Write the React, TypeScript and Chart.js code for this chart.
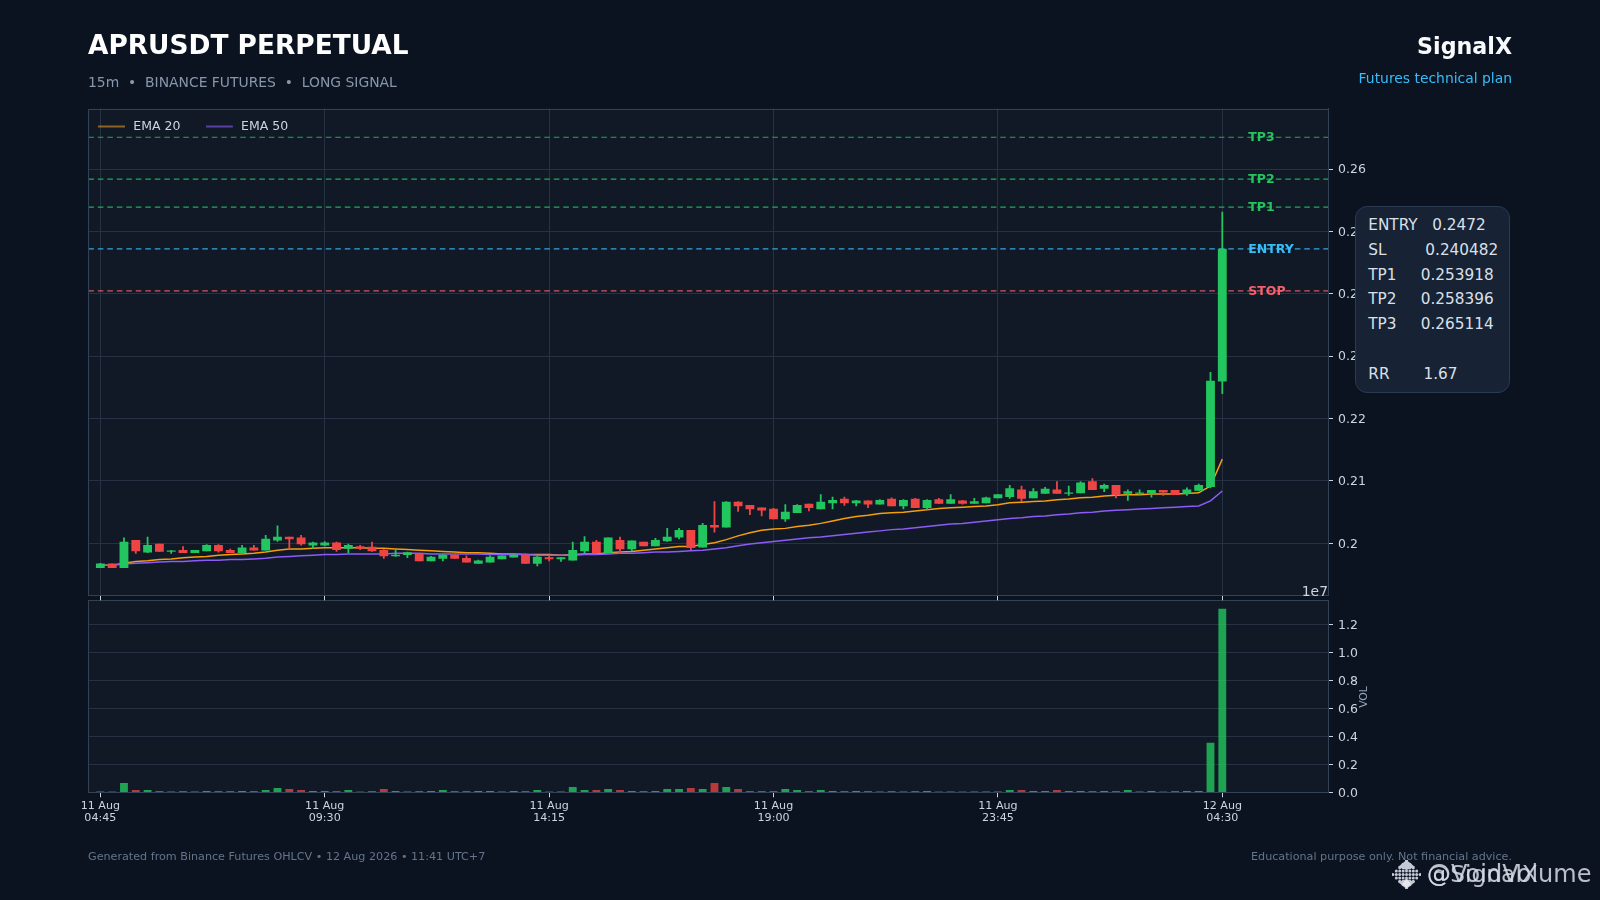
import React, { useEffect, useRef } from "react";
import { Chart, registerables } from "chart.js";

Chart.register(...registerables);

const tickIndexes = [0, 19, 38, 57, 76, 95];
const tickDates = ["11 Aug", "11 Aug", "11 Aug", "11 Aug", "11 Aug", "12 Aug"];
const tickTimes = ["04:45", "09:30", "14:15", "19:00", "23:45", "04:30"];
const priceTicks = [0.2, 0.21, 0.22, 0.23, 0.24, 0.25, 0.26];
const volumeTicks = [0, 0.2, 0.4, 0.6, 0.8, 1.0, 1.2];

const opens = [
  0.1961, 0.1967, 0.1961, 0.2005, 0.1986, 0.1999, 0.1987, 0.1989, 0.1985, 0.1988, 0.1997, 0.1989,
  0.1985, 0.1993, 0.1989, 0.2005, 0.201, 0.2009, 0.1997, 0.1997, 0.2001, 0.1992, 0.1995, 0.1994,
  0.1989, 0.198, 0.1982, 0.1983, 0.1972, 0.1976, 0.1981, 0.1976, 0.1968, 0.197, 0.1975, 0.1978,
  0.1981, 0.1968, 0.1977, 0.1975, 0.1973, 0.1988, 0.2002, 0.1985, 0.2005, 0.1991, 0.2002, 0.1996,
  0.2004, 0.201, 0.2021, 0.1994, 0.2029, 0.2026, 0.2066, 0.2061, 0.2057, 0.2055, 0.2039, 0.2049,
  0.2063, 0.2055, 0.2065, 0.2071, 0.2065, 0.2068, 0.2063, 0.2071, 0.206, 0.2071, 0.2057, 0.207,
  0.2064, 0.2068, 0.2064, 0.2065, 0.2073, 0.2075, 0.2086, 0.2073, 0.208, 0.2086, 0.208, 0.2081,
  0.2099, 0.2088, 0.2093, 0.208, 0.208, 0.2081, 0.2085, 0.2085, 0.208, 0.2085, 0.2091, 0.226,
];
const highs = [
  0.1968, 0.1967, 0.2009, 0.2005, 0.201, 0.1999, 0.1989, 0.1995, 0.1989, 0.1998, 0.1998, 0.1991,
  0.1997, 0.1997, 0.2013, 0.2028, 0.201, 0.2013, 0.2002, 0.2003, 0.2002, 0.1999, 0.1997, 0.2002,
  0.199, 0.1989, 0.1986, 0.1983, 0.1979, 0.1982, 0.1982, 0.198, 0.1973, 0.198, 0.198, 0.1982,
  0.1983, 0.1979, 0.198, 0.1977, 0.2002, 0.2011, 0.2005, 0.2009, 0.201, 0.2004, 0.2002, 0.2008,
  0.2024, 0.2024, 0.2021, 0.2032, 0.2067, 0.2067, 0.2067, 0.2061, 0.2057, 0.2056, 0.2062, 0.2062,
  0.2063, 0.2078, 0.2074, 0.2074, 0.2069, 0.2068, 0.207, 0.2073, 0.207, 0.2072, 0.207, 0.2072,
  0.2078, 0.2069, 0.2072, 0.2074, 0.2078, 0.2093, 0.2092, 0.2088, 0.209, 0.2099, 0.2092, 0.2099,
  0.2104, 0.2095, 0.2093, 0.2086, 0.2086, 0.2085, 0.2085, 0.2085, 0.2089, 0.2095, 0.2274, 0.2531,
];
const lows = [
  0.1961, 0.1961, 0.1961, 0.1984, 0.1985, 0.1987, 0.1984, 0.1985, 0.1985, 0.1988, 0.1986, 0.1985,
  0.1985, 0.1989, 0.1989, 0.2003, 0.1992, 0.1997, 0.1992, 0.1996, 0.1987, 0.1985, 0.199, 0.1987,
  0.1976, 0.1979, 0.1977, 0.1972, 0.1972, 0.1972, 0.1976, 0.197, 0.1968, 0.197, 0.1975, 0.1978,
  0.1968, 0.1964, 0.1972, 0.1971, 0.1973, 0.1984, 0.1985, 0.1985, 0.1984, 0.1988, 0.1996, 0.1996,
  0.2003, 0.2007, 0.199, 0.1994, 0.2018, 0.2026, 0.2051, 0.2046, 0.2044, 0.2039, 0.2035, 0.2049,
  0.2052, 0.2055, 0.2055, 0.2061, 0.206, 0.2057, 0.2063, 0.206, 0.2055, 0.2057, 0.2054, 0.2064,
  0.2064, 0.2063, 0.2064, 0.2065, 0.2073, 0.2072, 0.2067, 0.2073, 0.208, 0.208, 0.2077, 0.2081,
  0.2086, 0.2083, 0.2073, 0.2069, 0.2078, 0.2074, 0.2077, 0.2078, 0.2077, 0.2084, 0.2089, 0.224,
];
const closes = [
  0.1967, 0.1961, 0.2002, 0.1988, 0.1997, 0.1987, 0.1988, 0.1985, 0.1989, 0.1997, 0.1988, 0.1985,
  0.1993, 0.1989, 0.2007, 0.201, 0.2007, 0.1999, 0.2001, 0.2001, 0.199, 0.1997, 0.1992, 0.1988,
  0.198, 0.1981, 0.1985, 0.1972, 0.1978, 0.1981, 0.1976, 0.197, 0.1972, 0.1978, 0.198, 0.1981,
  0.1968, 0.1978, 0.1975, 0.1977, 0.1989, 0.2002, 0.1985, 0.2009, 0.1991, 0.2004, 0.1996, 0.2005,
  0.201, 0.2021, 0.1993, 0.2029, 0.2026, 0.2066, 0.206, 0.2055, 0.2053, 0.2039, 0.205, 0.2061,
  0.2057, 0.2066, 0.2069, 0.2065, 0.2068, 0.2063, 0.2069, 0.206, 0.2069, 0.2057, 0.2069, 0.2064,
  0.207, 0.2064, 0.2067, 0.2073, 0.2078, 0.2088, 0.2072, 0.2083, 0.2087, 0.208, 0.2081, 0.2097,
  0.2086, 0.2093, 0.2078, 0.2083, 0.2081, 0.2085, 0.2082, 0.2078, 0.2086, 0.2093, 0.226, 0.2472,
];
const ema20 = [
  0.1965, 0.1965, 0.1968, 0.1971, 0.1972, 0.1974, 0.1975, 0.1977, 0.1978, 0.1979, 0.1981, 0.1982,
  0.1983, 0.1984, 0.1986, 0.1989, 0.1991, 0.1991, 0.1992, 0.1993, 0.1993, 0.1993, 0.1993, 0.1992,
  0.1992, 0.1991, 0.199, 0.1989, 0.1988, 0.1987, 0.1986, 0.1985, 0.1985, 0.1984, 0.1983, 0.1983,
  0.1982, 0.1982, 0.1982, 0.1981, 0.1982, 0.1983, 0.1983, 0.1985, 0.1986, 0.1987, 0.1989, 0.1991,
  0.1993, 0.1995, 0.1995, 0.1998, 0.2001, 0.2006, 0.2012, 0.2017, 0.2021, 0.2023, 0.2024, 0.2027,
  0.2029, 0.2032, 0.2036, 0.204, 0.2043, 0.2045, 0.2048, 0.2049, 0.205, 0.2052, 0.2054, 0.2056,
  0.2057, 0.2058, 0.2059, 0.206, 0.2062, 0.2065, 0.2066, 0.2067, 0.2068, 0.207, 0.2071, 0.2073,
  0.2074, 0.2076, 0.2077, 0.2078, 0.2078, 0.2079, 0.2079, 0.2079, 0.208, 0.2081, 0.2092, 0.2135,
];
const ema50 = [
  0.1965, 0.1965, 0.1967, 0.1968, 0.1969, 0.197, 0.1971, 0.1971, 0.1972, 0.1973, 0.1973, 0.1974,
  0.1974, 0.1975, 0.1976, 0.1978, 0.1979, 0.198, 0.1981, 0.1982, 0.1982, 0.1983, 0.1983, 0.1983,
  0.1983, 0.1984, 0.1984, 0.1984, 0.1983, 0.1983, 0.1983, 0.1983, 0.1983, 0.1982, 0.1982, 0.1982,
  0.1982, 0.1981, 0.1981, 0.1981, 0.1981, 0.1982, 0.1982, 0.1983, 0.1984, 0.1984, 0.1985, 0.1986,
  0.1986, 0.1987, 0.1988, 0.1989, 0.1991, 0.1993, 0.1996, 0.1999, 0.2001, 0.2003, 0.2005, 0.2007,
  0.2009, 0.201, 0.2012, 0.2014, 0.2016, 0.2018, 0.202, 0.2022, 0.2023, 0.2025, 0.2027, 0.2029,
  0.2031, 0.2032, 0.2034, 0.2036, 0.2038, 0.204, 0.2041, 0.2043, 0.2044, 0.2046, 0.2047, 0.2049,
  0.205, 0.2052, 0.2053, 0.2054, 0.2055, 0.2056, 0.2057, 0.2058, 0.2059, 0.206, 0.2068, 0.2084,
];
// volume, in units of 1e7
const volumes = [
  0.001, 0.001, 0.064, 0.014, 0.014, 0.007, 0.002, 0.007, 0.002, 0.007, 0.007, 0.007,
  0.007, 0.007, 0.014, 0.029, 0.021, 0.014, 0.007, 0.007, 0.007, 0.014, 0.002, 0.007,
  0.021, 0.007, 0.002, 0.007, 0.007, 0.014, 0.007, 0.007, 0.007, 0.007, 0.002, 0.007,
  0.007, 0.014, 0.002, 0.002, 0.036, 0.014, 0.014, 0.021, 0.014, 0.007, 0.007, 0.007,
  0.021, 0.021, 0.029, 0.021, 0.064, 0.036, 0.021, 0.007, 0.007, 0.007, 0.021, 0.014,
  0.007, 0.014, 0.007, 0.007, 0.007, 0.007, 0.002, 0.007, 0.002, 0.007, 0.007, 0.002,
  0.002, 0.002, 0.002, 0.002, 0.002, 0.014, 0.014, 0.007, 0.007, 0.014, 0.007, 0.007,
  0.007, 0.007, 0.007, 0.014, 0.002, 0.007, 0.002, 0.007, 0.007, 0.007, 0.352, 1.309,
];
const levelNames = ["TP3", "TP2", "TP1", "ENTRY", "STOP"];
const levelValues = [0.265114, 0.258396, 0.253918, 0.2472, 0.240482];
const infoLines = [
  "ENTRY   0.2472",
  "SL        0.240482",
  "TP1     0.253918",
  "TP2     0.258396",
  "TP3     0.265114",
  " ",
  "RR       1.67",
];

const FONT = "'DejaVu Sans', sans-serif";
const BG = "#0b1320";
const PANEL = "#111927";
const GRID = "#263243";
const FRAME = "#334155";
const TICK = "#cbd5e1";
const UP = "#22c55e";
const DOWN = "#ef4444";
const UP_VOL = "rgba(34,197,94,0.8)";
const DOWN_VOL = "rgba(239,68,68,0.75)";
const LEVEL_COLORS = ["#22c55e", "#22c55e", "#22c55e", "#38bdf8", "#f4606c"];
const ORANGE = "#f59e0b";
const PURPLE = "#8b5cf6";
const X_MIN = -1.02;
const X_MAX = 103.95;
const LEFT = 88.3;
const RIGHT = 1328;
const MAIN_TOP = 108;
const MAIN_BOTTOM = 595.3;
const VOL_TOP = 600.3;
const VOL_BOTTOM = 792.3;

function panelPlugin() {
  return {
    id: "panel",
    beforeDraw(chart: any) {
      const { ctx, chartArea: a } = chart;
      ctx.save();
      ctx.fillStyle = PANEL;
      ctx.fillRect(a.left, a.top, a.right - a.left, a.bottom - a.top);
      ctx.restore();
    },
    afterDatasetsDraw(chart: any) {
      const { ctx, chartArea: a } = chart;
      ctx.save();
      ctx.strokeStyle = FRAME;
      ctx.lineWidth = 1;
      const l = Math.round(a.left) + 0.5;
      const t = Math.round(a.top) + 0.5;
      const r = Math.round(a.right) + 0.5;
      const b = Math.round(a.bottom) + 0.5;
      ctx.strokeRect(l, t, r - l, b - t);
      ctx.restore();
    },
  };
}

const levelLabelPlugin = {
  id: "levelLabels",
  afterDatasetsDraw(chart: any) {
    const { ctx, scales } = chart;
    ctx.save();
    ctx.font = `bold 12.5px ${FONT}`;
    ctx.textBaseline = "middle";
    ctx.textAlign = "left";
    levelNames.forEach((name, i) => {
      ctx.fillStyle = LEVEL_COLORS[i];
      ctx.fillText(name, scales.x.getPixelForValue(97.2), scales.y.getPixelForValue(levelValues[i]) + 0.5);
    });
    ctx.restore();
  },
};

// Chart.js has no inside-the-plot legend position for a row, so the row is moved after layout.
const legendPlacePlugin = {
  id: "legendPlace",
  afterLayout(chart: any) {
    const lg = chart.legend;
    lg.left = 72.5;
    lg.right = 1000;
    lg.top = 94.75;
    lg.bottom = 160;
  },
};

function swatch(color: string) {
  const c = document.createElement("canvas");
  c.width = 29;
  c.height = 4;
  const g = c.getContext("2d")!;
  g.strokeStyle = color;
  g.lineWidth = 1.4;
  g.beginPath();
  g.moveTo(0, 2);
  g.lineTo(27, 2);
  g.stroke();
  return c;
}

function Txt(props: { x: number; base: number; size: number; color: string; bold?: boolean; right?: boolean; children: string; opacity?: number }) {
  const { x, base, size, color, bold, right, children, opacity } = props;
  const style: React.CSSProperties = {
    position: "absolute",
    top: base - 0.846 * size,
    fontFamily: FONT,
    fontSize: size,
    lineHeight: 1,
    color,
    fontWeight: bold ? 700 : 400,
    whiteSpace: "pre",
    opacity: opacity ?? 1,
  };
  if (right) style.right = 1600 - x;
  else style.left = x;
  return <div style={style}>{children}</div>;
}

function Logo() {
  const dots: React.ReactElement[] = [];
  for (let i = -4; i <= 4; i++) {
    for (let j = -4; j <= 4; j++) {
      if (Math.abs(i) + Math.abs(j) <= 4) {
        dots.push(<circle key={`${i}_${j}`} cx={14.5 + i * 3.4} cy={14.5 + j * 3.4} r={1.5} fill="#d8dee8" />);
      }
    }
  }
  return (
    <svg width={29} height={29} style={{ position: "absolute", left: 1392, top: 860, opacity: 0.9 }}>
      {dots}
      <polygon points="14.5,0 23,7 14.5,10 6,7" fill="#d8dee8" />
      <polygon points="14.5,29 23,22 14.5,19 6,22" fill="#d8dee8" />
      <polygon points="14.5,19 19,24 14.5,28 10,24" fill="#ffffff" />
    </svg>
  );
}

export default function App() {
  const mainRef = useRef<HTMLCanvasElement>(null);
  const volRef = useRef<HTMLCanvasElement>(null);

  useEffect(() => {
    document.body.style.margin = "0";
    document.body.style.background = BG;
    const isUp = closes.map((c, i) => c >= opens[i]);
    const candleColors = isUp.map((u) => (u ? UP : DOWN));
    const xTickConfig = (labels: boolean) => ({
      type: "linear" as const,
      min: X_MIN,
      max: X_MAX,
      offset: false,
      afterBuildTicks: (s: any) => {
        s.ticks = tickIndexes.map((value) => ({ value }));
      },
      ticks: {
        display: labels,
        autoSkip: false,
        maxRotation: 0,
        color: TICK,
        padding: 3.5,
        font: { family: FONT, size: 11.1, lineHeight: 1.03 },
        callback: (v: any) => {
          const k = tickIndexes.indexOf(Number(v));
          return k < 0 ? "" : [tickDates[k], tickTimes[k]];
        },
      },
    });
    const yAxisConfig = (min: number, max: number, values: number[], fmt: (v: number) => string) => ({
      type: "linear" as const,
      position: "right" as const,
      min,
      max,
      beginAtZero: false,
      afterBuildTicks: (s: any) => {
        s.ticks = values.map((value) => ({ value }));
      },
      afterFit: (s: any) => {
        s.width = 1600 - RIGHT;
      },
      grid: { color: GRID, lineWidth: 1, tickColor: TICK, tickLength: 5, tickWidth: 1 },
      border: { color: FRAME },
      ticks: {
        color: TICK,
        padding: 5,
        labelOffset: 1,
        font: { family: FONT, size: 12.5 },
        callback: (v: any) => fmt(Number(v)),
      },
    });

    const main = new Chart(mainRef.current!, {
      type: "bar",
      plugins: [panelPlugin(), levelLabelPlugin, legendPlacePlugin],
      data: {
        datasets: [
          ...levelNames.map((name, i) => ({
            type: "line" as const,
            label: name,
            data: [
              { x: X_MIN, y: levelValues[i] },
              { x: X_MAX, y: levelValues[i] },
            ],
            borderColor: LEVEL_COLORS[i] + "d9",
            borderWidth: 1.2,
            borderDash: [5.6, 3.9],
            pointRadius: 0,
            order: 5,
          })),
          {
            type: "line" as const,
            label: "EMA 20",
            data: ema20.map((y, x) => ({ x, y })),
            borderColor: ORANGE,
            borderWidth: 1.5,
            pointRadius: 0,
            tension: 0,
            order: 4,
          },
          {
            type: "line" as const,
            label: "EMA 50",
            data: ema50.map((y, x) => ({ x, y })),
            borderColor: PURPLE,
            borderWidth: 1.5,
            pointRadius: 0,
            tension: 0,
            order: 3,
          },
          {
            label: "wick",
            data: highs.map((h, x) => ({ x, y: [lows[x], h] })),
            backgroundColor: candleColors,
            barThickness: 1.15,
            grouped: false,
            order: 2,
          },
          {
            label: "body",
            data: opens.map((o, x) => ({ x, y: [o, closes[x]] })),
            backgroundColor: candleColors,
            barThickness: 8.2,
            grouped: false,
            order: 1,
          },
        ] as any,
      },
      options: {
        responsive: false,
        animation: false,
        events: [],
        layout: { padding: { left: LEFT, top: MAIN_TOP - 47.5, right: 0, bottom: 0 } },
        plugins: {
          tooltip: { enabled: false },
          legend: {
            position: "top",
            align: "start",
            labels: {
              usePointStyle: true,
              pointStyleWidth: 29,
              padding: 25.5,
              color: TICK,
              font: { family: FONT, size: 12.5 },
              generateLabels: (c: any) =>
                c.data.datasets
                  .map((d: any, i: number) => ({ d, i }))
                  .filter(({ d }: any) => d.label.startsWith("EMA"))
                  .map(({ d, i }: any) => ({
                    text: d.label,
                    datasetIndex: i,
                    hidden: false,
                    fontColor: TICK,
                    fillStyle: d.borderColor,
                    strokeStyle: d.borderColor,
                    lineWidth: 1.4,
                    pointStyle: swatch(d.label === "EMA 20" ? "#c4851a" : "#7a52d8"),
                  })),
            },
          },
        },
        scales: {
          x: {
            ...xTickConfig(false),
            grid: { offset: false, color: GRID, tickColor: TICK, tickLength: 5, tickWidth: 1 },
            border: { color: FRAME },
            afterFit: (s: any) => {
              s.height = 900 - MAIN_BOTTOM;
            },
          },
          y: yAxisConfig(0.19167, 0.26972, priceTicks, (v) => String(v)),
        },
      } as any,
    });

    const vol = new Chart(volRef.current!, {
      type: "bar",
      plugins: [panelPlugin()],
      data: {
        datasets: [
          {
            label: "VOL",
            data: volumes.map((y, x) => ({ x, y })),
            backgroundColor: isUp.map((u) => (u ? UP_VOL : DOWN_VOL)),
            barThickness: 7.2,
            grouped: false,
          },
        ] as any,
      },
      options: {
        responsive: false,
        animation: false,
        events: [],
        layout: { padding: { left: LEFT, top: VOL_TOP, right: 0, bottom: 0 } },
        plugins: { tooltip: { enabled: false }, legend: { display: false } },
        scales: {
          x: {
            ...xTickConfig(true),
            grid: { offset: false, drawOnChartArea: false, color: GRID, tickColor: TICK, tickLength: 5, tickWidth: 1 },
            border: { color: FRAME },
            afterFit: (s: any) => {
              s.height = 900 - VOL_BOTTOM;
            },
          },
          y: yAxisConfig(0, 1.3714, volumeTicks, (v) => v.toFixed(1)),
        },
      } as any,
    });

    return () => {
      main.destroy();
      vol.destroy();
    };
  }, []);

  const canvasStyle: React.CSSProperties = { position: "absolute", left: 0, top: 0 };
  return (
    <div style={{ position: "relative", width: 1600, height: 900, background: BG, overflow: "hidden" }}>
      <canvas ref={volRef} width={1600} height={900} style={canvasStyle} />
      <canvas ref={mainRef} width={1600} height={900} style={canvasStyle} />
      <Txt x={88} base={54} size={26.4} color="#ffffff" bold>APRUSDT PERPETUAL</Txt>
      <Txt x={88} base={87.5} size={13.9} color="#8796ab">{"15m  •  BINANCE FUTURES  •  LONG SIGNAL"}</Txt>
      <Txt x={1512} base={54} size={22.2} color="#f8fafc" bold right>SignalX</Txt>
      <Txt x={1512} base={84} size={13.9} color="#38bdf8" right>Futures technical plan</Txt>
      <Txt x={1328} base={597} size={13.9} color={TICK} right>1e7</Txt>
      <div
        style={{
          position: "absolute",
          left: 1364,
          top: 697,
          transform: "translate(-50%,-50%) rotate(-90deg)",
          fontFamily: FONT,
          fontSize: 10.8,
          color: "#94a3b8",
          lineHeight: 1,
        }}
      >
        VOL
      </div>
      <div
        style={{
          position: "absolute",
          left: 1355,
          top: 206,
          width: 154.5,
          height: 187,
          boxSizing: "border-box",
          borderRadius: 12,
          background: "#172234",
          border: "1px solid #2b3a50",
        }}
      />
      {infoLines.map((line, i) => (
        <Txt key={i} x={1368.3} base={231 + i * 24.8} size={15.28} color="#d9e0ea">{line}</Txt>
      ))}
      <Txt x={88} base={860} size={11.16} color="#64748b">{"Generated from Binance Futures OHLCV • 12 Aug 2026 • 11:41 UTC+7"}</Txt>
      <Txt x={1512} base={860} size={11.16} color="#64748b" right>Educational purpose only. Not financial advice.</Txt>
      <Logo />
      <Txt x={1427} base={882} size={23.3} color="#d8dee8" opacity={0.85}>@SignalX</Txt>
      <Txt x={1427} base={882} size={24} color="#d8dee8" opacity={0.85}>@VoidVolume</Txt>
    </div>
  );
}
